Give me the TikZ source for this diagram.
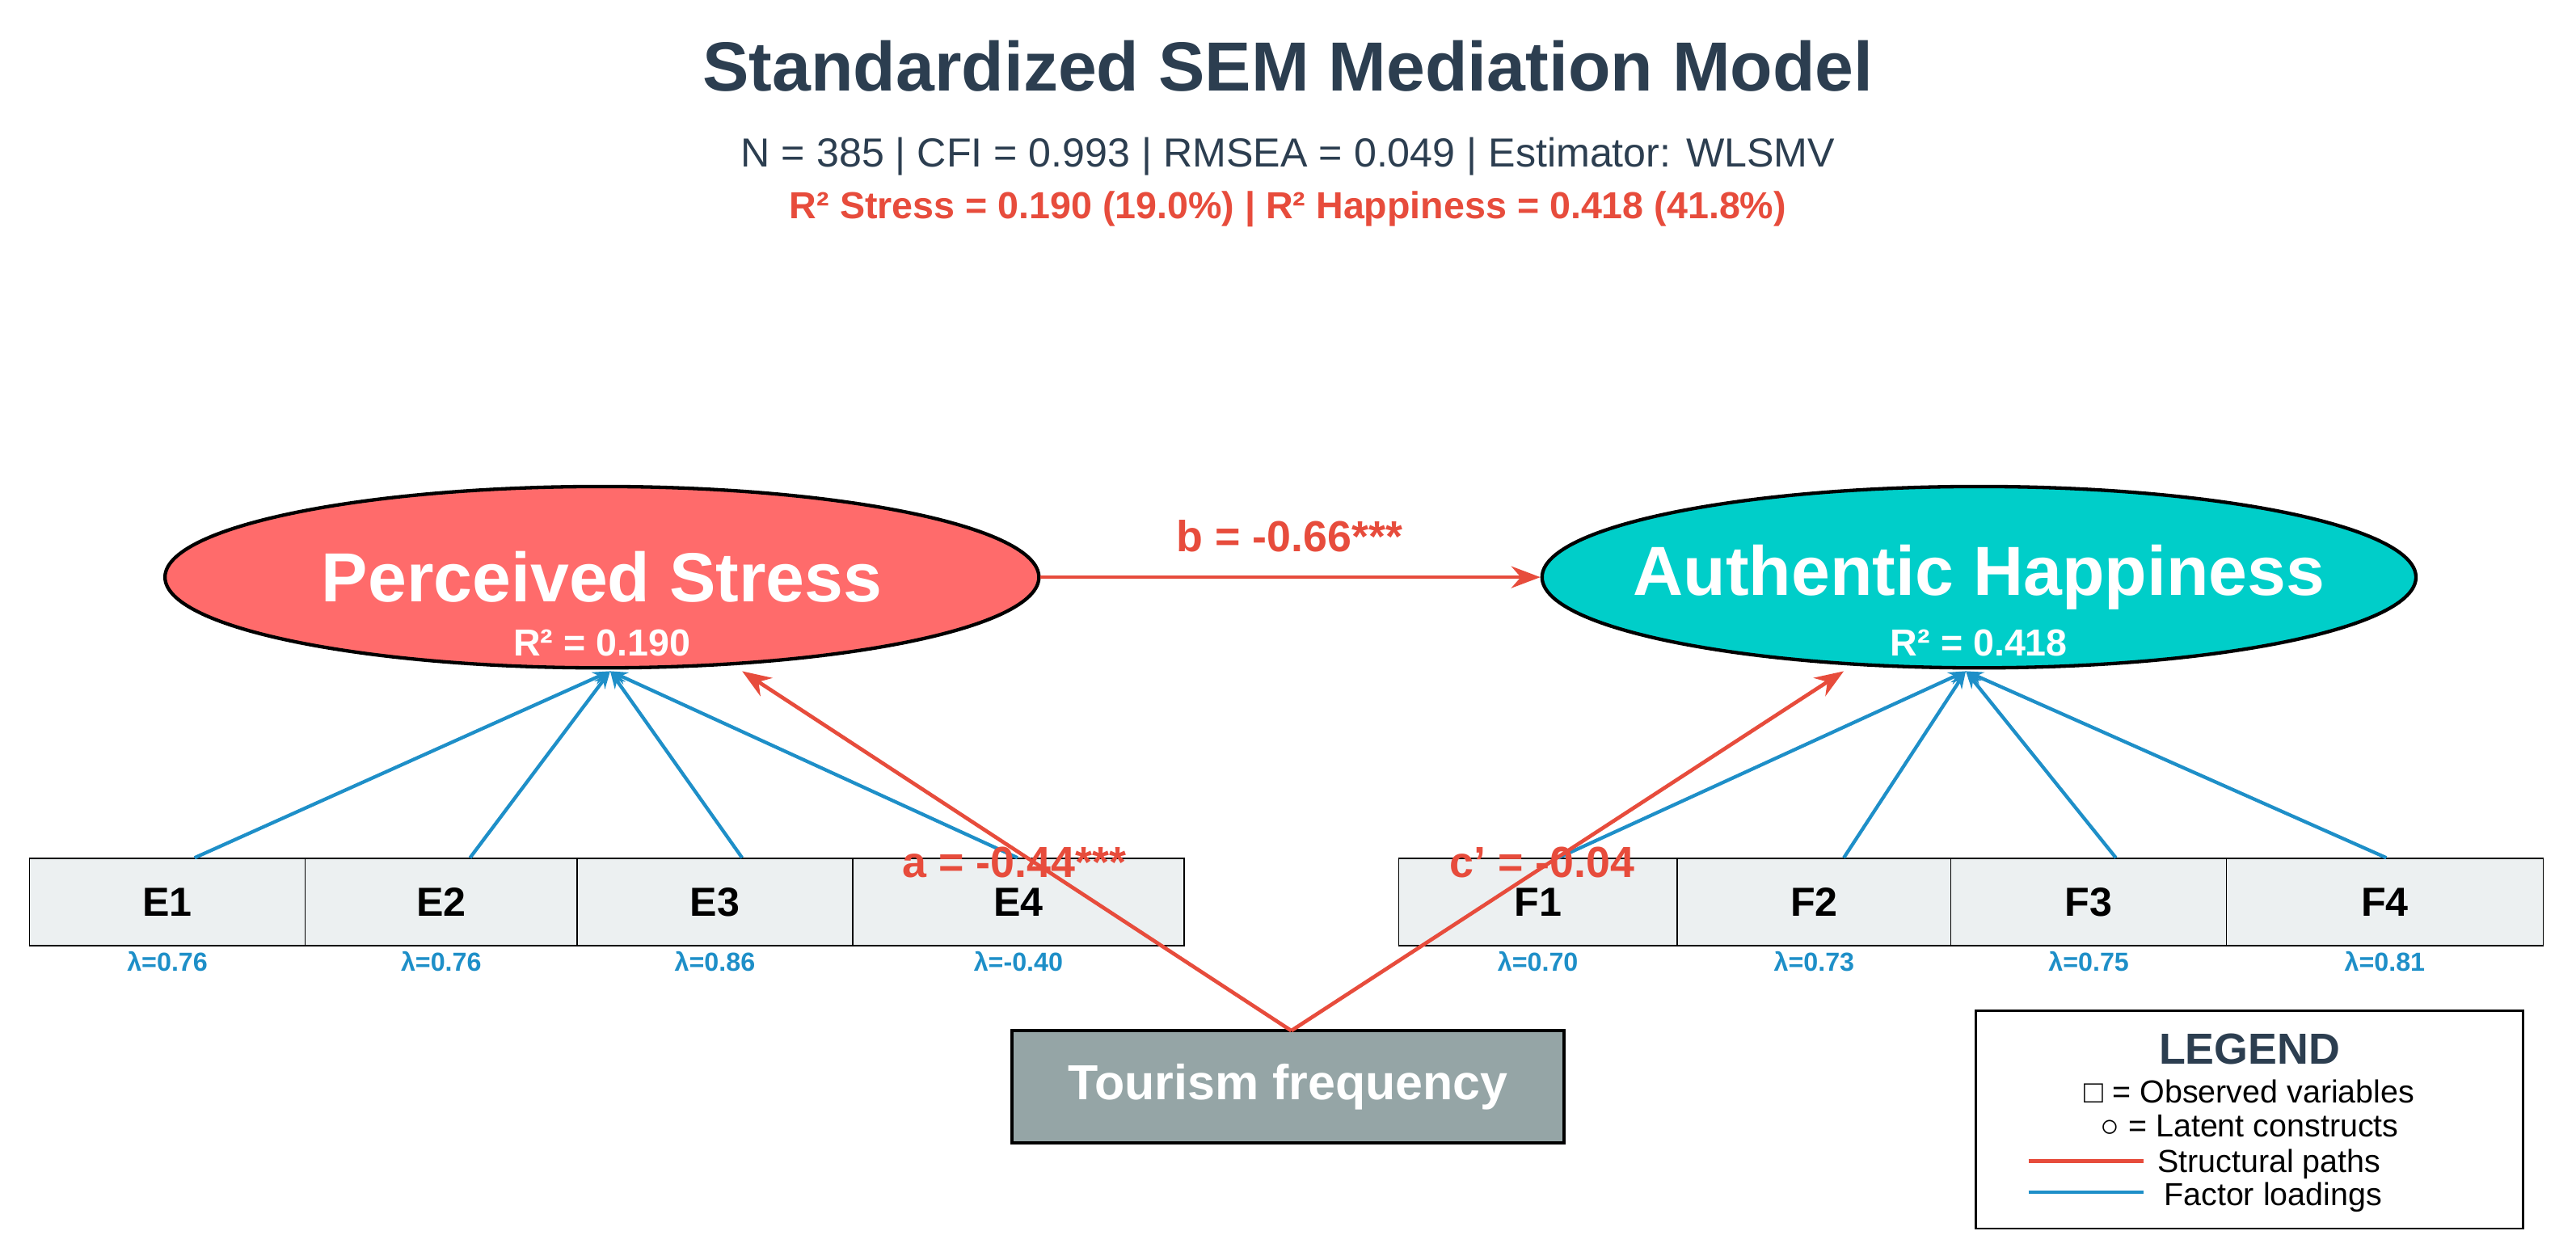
\documentclass[tikz,border=0pt]{standalone}
\usepackage{fontspec}
\setmainfont{Liberation Sans}
\usetikzlibrary{shapes.geometric,arrows.meta}
\definecolor{navy}{HTML}{2C3E50}
\definecolor{pathred}{HTML}{E74C3C}
\definecolor{stressred}{HTML}{FF6B6B}
\definecolor{happyteal}{HTML}{00CEC9}
\definecolor{loadblue}{HTML}{1E8FC8}
\definecolor{boxgray}{HTML}{ECF0F1}
\definecolor{tourgray}{HTML}{95A5A6}
\tikzset{
  latent/.style={ellipse, draw=black, line width=1.2pt, minimum width=10.6cm, minimum height=2.2cm, inner sep=0pt},
  obs/.style={rectangle, draw=black, fill=boxgray, minimum height=1.06cm, font=\fontsize{14}{16}\selectfont\bfseries, inner sep=0pt},
  load/.style={loadblue, line width=1.2pt},
  struct/.style={pathred, line width=1.3pt, -{Stealth[length=10pt]}},
  lam/.style={loadblue, font=\fontsize{9}{10}\selectfont\bfseries},
  plab/.style={pathred, font=\fontsize{15}{17}\selectfont\bfseries}
}
\begin{document}
\begin{tikzpicture}[x=0.02cm, y=-0.02cm]
\useasboundingbox (0,0) rectangle (1562,759);
% titles
\node[navy, font=\fontsize{24}{28}\selectfont\bfseries] (title) at (781,40) {Standardized SEM Mediation Model};
\node[navy, font=\fontsize{14}{16}\selectfont] (sub) at (781,95) {N = 385 | CFI = 0.993 | RMSEA = 0.049 | Estimator: WLSMV};
\node[pathred, font=\fontsize{13}{15}\selectfont\bfseries] (rsq) at (781,127) {R² Stress = 0.190 (19.0\%) | R² Happiness = 0.418 (41.8\%)};
% observed boxes
\foreach \n/\xa/\xb/\l in {1/18/185/0.76, 2/185/350/0.76, 3/350/517/0.86, 4/517/718/-0.40} {
  \node[obs, minimum width={(\xb-\xa)*0.02cm}] (E\n) at ({(\xa+\xb)/2},547) {E\n};
  \node[lam] (lE\n) at ({(\xa+\xb)/2},583) {λ=\l};
}
\foreach \n/\xa/\xb/\l in {1/848/1017/0.70, 2/1017/1183/0.73, 3/1183/1350/0.75, 4/1350/1542/0.81} {
  \node[obs, minimum width={(\xb-\xa)*0.02cm}] (F\n) at ({(\xa+\xb)/2},547) {F\n};
  \node[lam] (lF\n) at ({(\xa+\xb)/2},583) {λ=\l};
}
% latent constructs
\node[latent, fill=stressred] (PS) at (365,350) {};
\node[white, font=\fontsize{24}{28}\selectfont\bfseries] (PSt) at (365,350) {Perceived Stress};
\node[white, font=\fontsize{13}{15}\selectfont\bfseries] (PSr) at (365,390) {R² = 0.190};
\node[latent, fill=happyteal] (AH) at (1200,350) {};
\node[white, font=\fontsize{24}{28}\selectfont\bfseries] (AHt) at (1200,350) {Authentic Happiness};
\node[white, font=\fontsize{13}{15}\selectfont\bfseries] (AHr) at (1200,390) {R² = 0.418};
% loadings
\coordinate (PSb) at (370,407);
\coordinate (AHb) at (1192,407);
\foreach \n/\x in {1/118, 2/285, 3/450, 4/617} \draw[load, -{Stealth[length=6pt]}] (E\n.north -| \x,0) -- (PSb);
\foreach \n/\x in {1/945, 2/1118, 3/1283, 4/1447} \draw[load, -{Stealth[length=6pt]}] (F\n.north -| \x,0) -- (AHb);
% predictor
\node[rectangle, draw=black, line width=1pt, fill=tourgray, minimum width=6.7cm, minimum height=1.36cm, text=white, font=\fontsize{17}{20}\selectfont\bfseries] (TF) at (781,659) {Tourism frequency};
\coordinate (TFt) at (783,625);
\draw[struct] (TFt) -- (450,407);
\draw[struct] (TFt) -- (1118,407);
\draw[struct] (PS.east) -- (AH.west);
\node[plab] (lb) at (782,325) {b = -0.66***};
\node[plab] (la) at (615,523) {a = -0.44***};
\node[plab] (lc) at (935,523) {c' = -0.04};
% legend
\node[rectangle, draw=black, line width=0.8pt, minimum width=6.64cm, minimum height=2.64cm] (leg) at (1364,679) {};
\node[navy, font=\fontsize{15}{17}\selectfont\bfseries] (legt) at (1364,636) {LEGEND};
\node[font=\fontsize{11}{12}\selectfont] (leg1) at (1364,662) {□ = Observed variables};
\node[font=\fontsize{11}{12}\selectfont] (leg2) at (1364,683) {○ = Latent constructs};
\coordinate (r1) at (1230,704); \coordinate (r2) at (1300,704);
\draw[pathred, line width=1.3pt] (r1) -- (r2);
\node[font=\fontsize{11}{12}\selectfont, anchor=west] (leg3) at (1302,706) {Structural paths};
\coordinate (b1) at (1230,723); \coordinate (b2) at (1300,723);
\draw[loadblue, line width=1.3pt] (b1) -- (b2);
\node[font=\fontsize{11}{12}\selectfont, anchor=west] (leg4) at (1306,726) {Factor loadings};
\end{tikzpicture}
\end{document}
